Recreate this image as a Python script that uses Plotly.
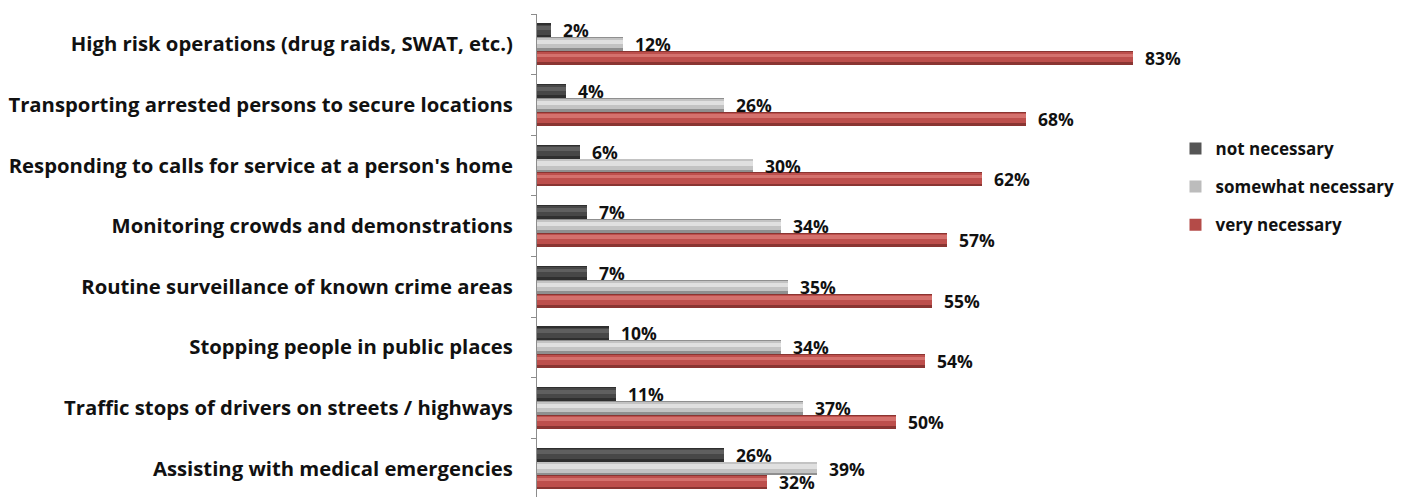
import plotly.graph_objects as go

# Survey results: share of respondents per activity and necessity level
categories = [
    "High risk operations (drug raids, SWAT, etc.)",
    "Transporting arrested persons to secure locations",
    "Responding to calls for service at a person's home",
    "Monitoring crowds and demonstrations",
    "Routine surveillance of known crime areas",
    "Stopping people in public places",
    "Traffic stops of drivers on streets / highways",
    "Assisting with medical emergencies",
]
not_necessary = [2, 4, 6, 7, 7, 10, 11, 26]
somewhat_necessary = [12, 26, 30, 34, 35, 34, 37, 39]
very_necessary = [83, 68, 62, 57, 55, 54, 50, 32]

series_names = ["not necessary", "somewhat necessary", "very necessary"]
series_values = [not_necessary, somewhat_necessary, very_necessary]

# Cylinder-like shading: base colour plus lighter bands (start, height as fraction of bar)
shading = [
    [("#2f2f2f", 0.0, 1.0), ("#474747", 0.08, 0.72), ("#5f5f5f", 0.2, 0.28)],
    [("#8f8f8f", 0.0, 1.0), ("#c3c3c3", 0.06, 0.74), ("#e0e0e0", 0.2, 0.3)],
    [("#8a3532", 0.0, 1.0), ("#bd4f4c", 0.06, 0.74), ("#d4716d", 0.16, 0.26)],
]
legend_colors = ["#555555", "#bcbcbc", "#b44b48"]

FONT = "Open Sans"

bar_w = 0.23
centers = [-0.23, 0.0, 0.23]
positions = list(range(len(categories)))

fig = go.Figure()
for s, (name, vals) in enumerate(zip(series_names, series_values)):
    top = centers[s] - bar_w / 2
    for k, (col, f0, fh) in enumerate(shading[s]):
        fig.add_trace(go.Bar(
            x=vals, y=positions, orientation="h",
            width=bar_w * fh, offset=top + f0 * bar_w,
            marker=dict(color=col, line=dict(width=0)),
            showlegend=False, hoverinfo="skip",
        ))
    # legend entry
    fig.add_trace(go.Bar(
        x=[None], y=[None], orientation="h", name=name,
        marker=dict(color=legend_colors[s], line=dict(width=0)),
        legendgroup=name, showlegend=True,
    ))

# value labels next to bar ends
for s, vals in enumerate(series_values):
    for i, v in enumerate(vals):
        fig.add_annotation(
            x=v, y=positions[i] + centers[s], text=f"{v}%",
            showarrow=False, xanchor="left", yanchor="middle", xshift=10,
            font=dict(family=FONT, size=17.5, color="#111111", weight="bold"),
        )

fig.update_layout(
    width=1405, height=497,
    margin=dict(l=537, r=225, t=14, b=0),
    paper_bgcolor="white", plot_bgcolor="white",
    barmode="overlay",
    xaxis=dict(range=[0, 89.5], visible=False, showgrid=False, zeroline=False),
    yaxis=dict(
        range=[7.47, -0.5],
        tickmode="array", tickvals=positions, ticktext=categories,
        ticks="", ticklabelstandoff=19,
        tickfont=dict(family=FONT, size=20.3, color="#111111", weight="bold"),
        showline=True, linecolor="#8c8c8c", linewidth=1,
        showgrid=False, zeroline=False,
        minor=dict(tickvals=[i - 0.5 for i in range(len(categories) + 1)],
                   ticks="outside", ticklen=5, tickcolor="#8c8c8c", showgrid=False),
    ),
    legend=dict(
        x=0.993, y=0.758, xanchor="left", yanchor="top",
        traceorder="grouped", tracegroupgap=13,
        font=dict(family=FONT, size=17, color="#111111", weight="bold"),
        itemwidth=30,
    ),
    bargap=0,
)

fig.write_html("out.html")
